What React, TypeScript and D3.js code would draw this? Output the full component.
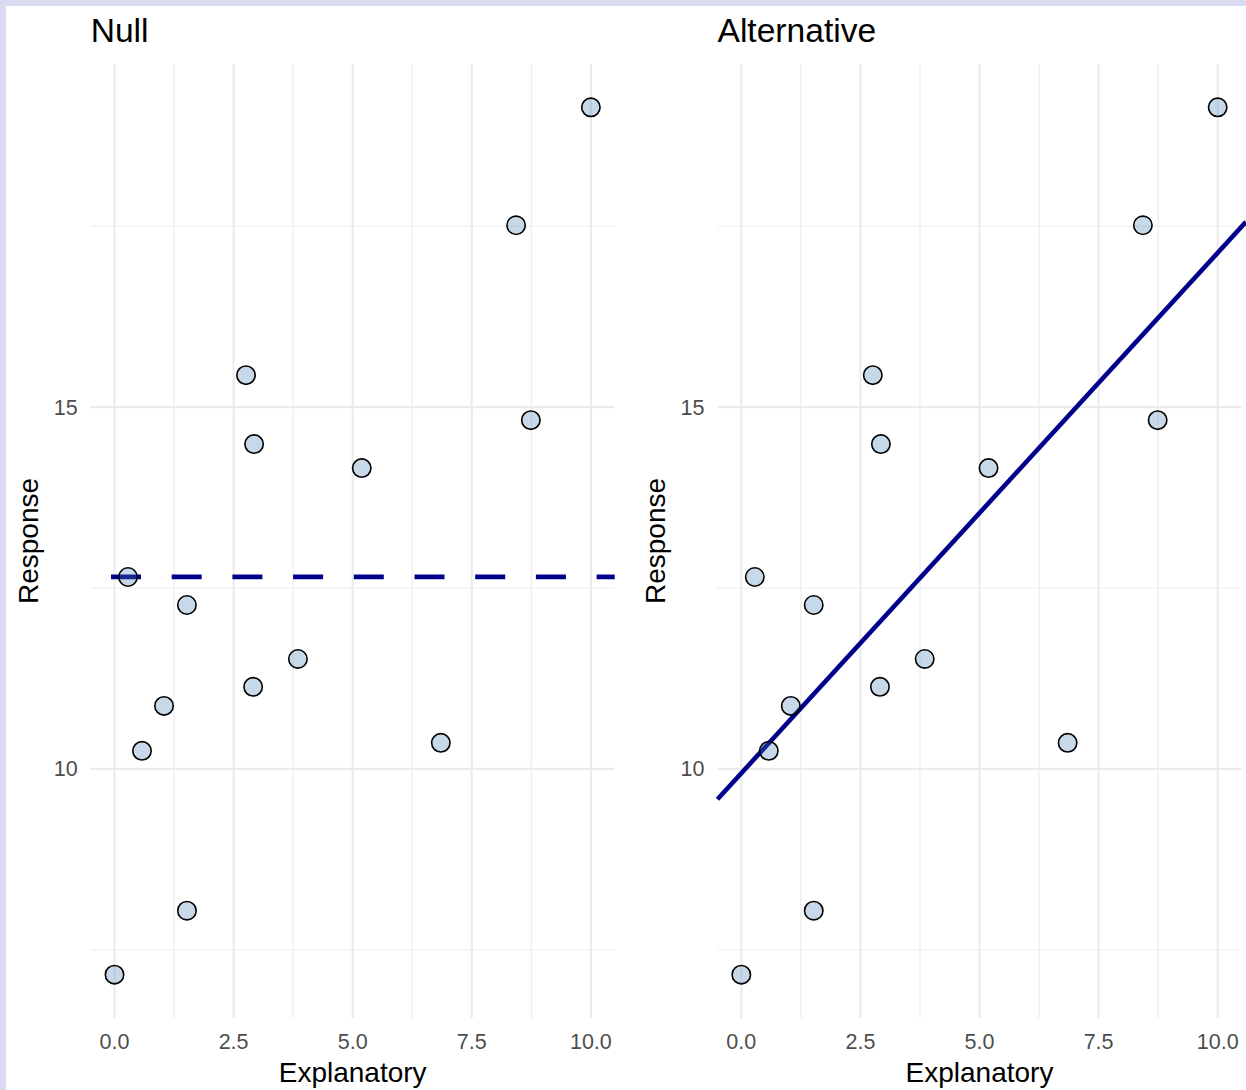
import React from "react";
import * as d3 from "d3";

const explanatory = [0, 0.283, 0.577, 1.039, 1.52, 1.52, 2.76, 2.93, 2.91, 3.85, 5.19, 6.85, 8.43, 8.74, 10.0];
const response = [7.155, 12.652, 10.249, 10.87, 12.265, 8.039, 15.442, 14.489, 11.133, 11.519, 14.157, 10.359, 17.514, 14.82, 19.144];
const panelTitles = ["Null", "Alternative"];
const xTicks = [0, 2.5, 5, 7.5, 10];
const xMinor = [1.25, 3.75, 6.25, 8.75];
const yTicks = [10, 15];
const yMinor = [7.5, 12.5, 17.5];

const W = 1246;
const H = 1090;
const FONT = "'Liberation Sans', Arial, sans-serif";

function Panel({ idx, left }: { idx: number; left: number }) {
  const xExt = d3.extent(explanatory) as [number, number];
  const yExt = d3.extent(response) as [number, number];
  const xPad = (xExt[1] - xExt[0]) * 0.05;
  const yPad = (yExt[1] - yExt[0]) * 0.05;
  const pw = 524;
  const top = 64;
  const bottom = 1018;
  const x = d3.scaleLinear().domain([xExt[0] - xPad, xExt[1] + xPad]).range([left, left + pw]);
  const y = d3.scaleLinear().domain([yExt[0] - yPad, yExt[1] + yPad]).range([bottom, top]);
  const [x0] = x.domain();
  const x1 = x.invert(W);
  const meanY = d3.mean(response) as number;
  const mx = d3.mean(explanatory) as number;
  let sxy = 0, sxx = 0;
  explanatory.forEach((v, i) => {
    sxy += (v - mx) * (response[i] - meanY);
    sxx += (v - mx) * (v - mx);
  });
  const slope = sxy / sxx;
  const intercept = meanY - slope * mx;
  const grid = "#ebebeb";
  return (
    <g>
      {yMinor.map((t) => (
        <line key={"ym" + t} x1={left} x2={left + pw} y1={y(t)} y2={y(t)} stroke={grid} strokeWidth={1.1} />
      ))}
      {xMinor.map((t) => (
        <line key={"xm" + t} x1={x(t)} x2={x(t)} y1={top} y2={bottom} stroke={grid} strokeWidth={1.1} />
      ))}
      {yTicks.map((t) => (
        <line key={"y" + t} x1={left} x2={left + pw} y1={y(t)} y2={y(t)} stroke={grid} strokeWidth={2.1} />
      ))}
      {xTicks.map((t) => (
        <line key={"x" + t} x1={x(t)} x2={x(t)} y1={top} y2={bottom} stroke={grid} strokeWidth={2.1} />
      ))}
      {idx === 0 ? (
        <line
          x1={x(x0)}
          x2={left + pw}
          y1={y(meanY)}
          y2={y(meanY)}
          stroke="#00008b"
          strokeWidth={4.6}
          strokeDasharray="30 30.7"
          strokeDashoffset={40.4}
        />
      ) : (
        <line
          x1={x(x0)}
          x2={x(x1)}
          y1={y(intercept + slope * x0)}
          y2={y(intercept + slope * x1)}
          stroke="#00008b"
          strokeWidth={4.6}
        />
      )}
      {explanatory.map((v, i) => (
        <circle
          key={i}
          cx={x(v)}
          cy={y(response[i])}
          r={9.2}
          fill="steelblue"
          fillOpacity={0.3}
          stroke="#000"
          strokeWidth={1.6}
        />
      ))}
      {xTicks.map((t) => (
        <text key={"xl" + t} x={x(t)} y={1049} textAnchor="middle" fontSize={21.5} fill="#4d4d4d" fontFamily={FONT}>
          {d3.format(".1f")(t)}
        </text>
      ))}
      {yTicks.map((t) => (
        <text key={"yl" + t} x={left - 13} y={y(t) + 7.5} textAnchor="end" fontSize={21.5} fill="#4d4d4d" fontFamily={FONT}>
          {t}
        </text>
      ))}
      <text x={left + pw / 2} y={1082} textAnchor="middle" fontSize={28} fill="#000" fontFamily={FONT}>
        Explanatory
      </text>
      <text
        transform={`translate(${left - 52.5},${(top + bottom) / 2}) rotate(-90)`}
        textAnchor="middle"
        fontSize={28}
        fill="#000"
        fontFamily={FONT}
      >
        Response
      </text>
      <text x={left} y={42} fontSize={33.6} fill="#000" fontFamily={FONT}>
        {panelTitles[idx]}
      </text>
    </g>
  );
}

export default function App() {
  return (
    <div style={{ position: "fixed", left: 0, top: 0 }}>
      <svg width={W} height={H} style={{ display: "block" }}>
        <rect x={0} y={0} width={W} height={H} fill="#d9d9ef" />
        <rect x={6} y={6} width={W - 6} height={H - 6} fill="#ffffff" />
        <Panel idx={0} left={90.7} />
        <Panel idx={1} left={717.5} />
      </svg>
    </div>
  );
}
